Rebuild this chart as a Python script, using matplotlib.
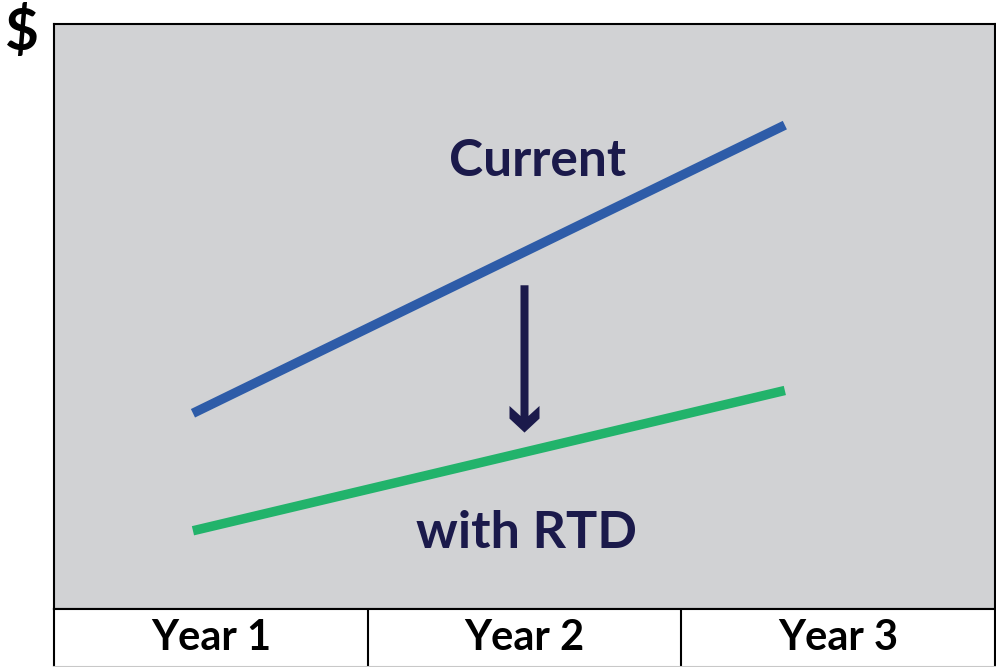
import matplotlib
matplotlib.use("Agg")
import matplotlib.pyplot as plt
from matplotlib.patches import Polygon
from matplotlib.transforms import IdentityTransform

# ---- data ----
years = ["Year 1", "Year 2", "Year 3"]
line_x = [0.443, 2.33]            # position along the year axis (cells span 0-1, 1-2, 2-3)
current_vals = [33.4, 82.7]       # relative cost ($)
rtd_vals = [13.3, 37.3]
series_labels = ["Current", "with RTD"]
arrow_x = 1.5
arrow_from = 55.3
arrow_to = 30.1

# ---- style ----
GRAY = "#d1d2d4"
BLUE = "#2e5ca8"
GREEN = "#22b36b"
NAVY = "#1b1a4b"
FONT = ["Lato", "DejaVu Sans"]

W, H = 996, 667
fig = plt.figure(figsize=(W / 100, H / 100), dpi=100)
fig.patch.set_facecolor("white")

ax_l, ax_r = 54 / W, 995 / W
ax_top, ax_bot = 1 - 24 / H, 1 - 608.5 / H
ax = fig.add_axes([ax_l, ax_bot, ax_r - ax_l, ax_top - ax_bot])
ax.set_facecolor(GRAY)
ax.set_xlim(0, 3)
ax.set_ylim(0, 100)
ax.set_xticks([])
ax.set_yticks([])
for s in ax.spines.values():
    s.set_linewidth(1.5)
    s.set_color("black")

ax.plot(line_x, current_vals, color=BLUE, lw=6.8, solid_capstyle="butt")
ax.plot(line_x, rtd_vals, color=GREEN, lw=6.8, solid_capstyle="butt")

ax.text(1.54, 76.4, series_labels[0], color=NAVY, fontsize=37, fontweight="bold",
        family=FONT, ha="center", va="center")
ax.text(1.505, 12.9, series_labels[1], color=NAVY, fontsize=37.5, fontweight="bold",
        family=FONT, ha="center", va="center")

# arrow (chevron head), built in pixels from the data endpoints
fig.canvas.draw()
tx, ty = ax.transData.transform((arrow_x, arrow_to))
_, topy = ax.transData.transform((arrow_x, arrow_from))
sw, hw, inner, outer_lo, outer_hi = 4, 15, 16.6, 14, 26.6
verts = [
    (tx - sw, topy), (tx + sw, topy), (tx + sw, ty + inner), (tx + hw, ty + outer_hi),
    (tx + hw, ty + outer_lo), (tx, ty), (tx - hw, ty + outer_lo), (tx - hw, ty + outer_hi),
    (tx - sw, ty + inner),
]
ax.add_patch(Polygon(verts, closed=True, facecolor=NAVY, edgecolor="none",
                     transform=IdentityTransform(), zorder=5))

# table row with year labels
tab = fig.add_axes([ax_l, 0, ax_r - ax_l, ax_bot])
tab.set_xlim(0, 3)
tab.set_ylim(0, 1)
tab.set_xticks([])
tab.set_yticks([])
tab.set_facecolor("white")
for s in tab.spines.values():
    s.set_linewidth(1.5)
    s.set_color("black")
tab.spines["bottom"].set_color("#c8c8c8")
for i in range(1, len(years)):
    tab.axvline(i, color="black", lw=1.5)
for i, y in enumerate(years):
    tab.text(i + 0.5, 0.5, y, ha="center", va="center", fontsize=30,
             fontweight="bold", family=FONT, color="black")

# "$" axis label
fig.text(22 / W, 1 - 33 / H, "$", ha="center", va="center", fontsize=42,
         fontweight="bold", fontstyle="normal", family=FONT, color="black")

fig.savefig("out.png", dpi=100, facecolor="white")
